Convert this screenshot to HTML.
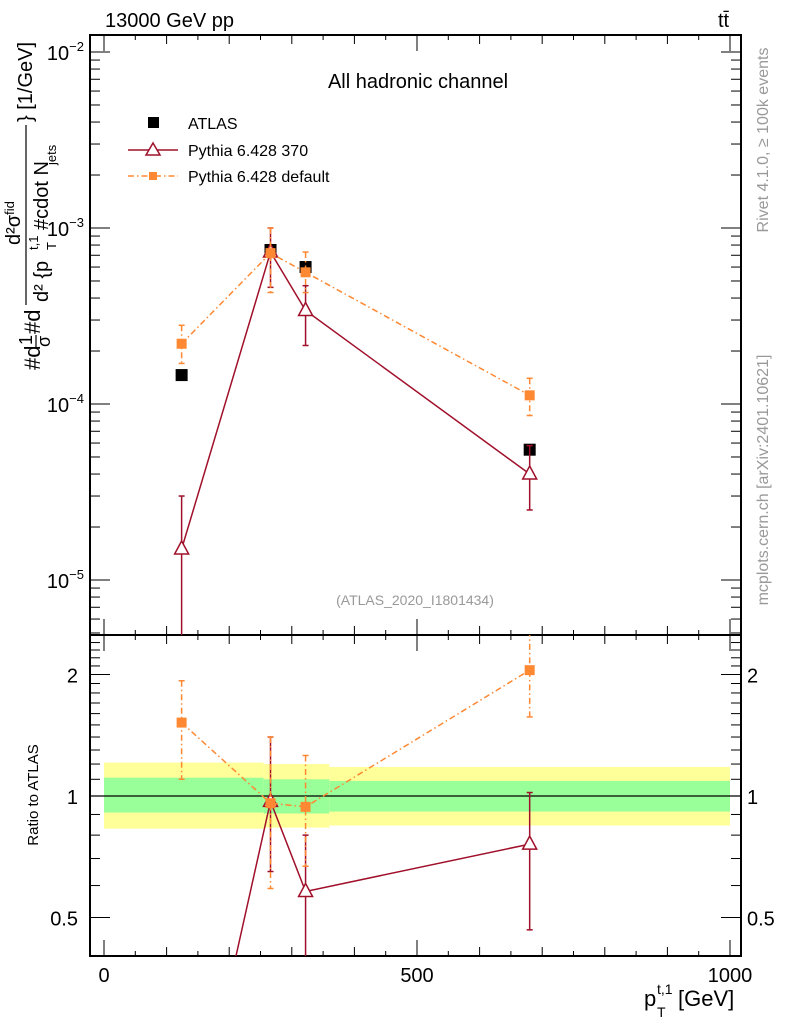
<!DOCTYPE html>
<html><head><meta charset="utf-8"><style>
html,body{margin:0;padding:0;background:#fff;overflow:hidden;}
svg{display:block;font-family:"Liberation Sans",sans-serif;}
</style></head><body>
<svg id="chart" width="786" height="1024" viewBox="0 0 786 1024" xmlns="http://www.w3.org/2000/svg">
<g id="bands"></g>
<g id="grid"></g>
<g id="series"></g>
<text x="105" y="27" font-size="20">13000 GeV pp</text>
<text x="718" y="27" font-size="20">tt̄</text>
<text x="418" y="88" font-size="20" text-anchor="middle">All hadronic channel</text>
<text x="415" y="605" font-size="14" fill="#999" text-anchor="middle">(ATLAS_2020_I1801434)</text>
<text transform="translate(768,140) rotate(-90)" font-size="16" fill="#999" text-anchor="middle">Rivet 4.1.0, ≥ 100k events</text>
<text transform="translate(768,480) rotate(-90)" font-size="16" fill="#999" text-anchor="middle">mcplots.cern.ch [arXiv:2401.10621]</text>
<g transform="rotate(-90)">
<text x="-370" y="40" font-size="22">#d</text>
<text x="-345" y="32" font-size="18">1</text>
<line x1="-347" x2="-335" y1="36" y2="36" stroke="#000" stroke-width="1.2"/>
<text x="-347" y="50" font-size="18">σ</text>
<text x="-334" y="40" font-size="22">#d</text>
<line x1="-305" x2="-125" y1="26" y2="26" stroke="#000" stroke-width="1.2"/>
<text x="-245" y="20" font-size="20">d²σ<tspan font-size="13" dy="-6">fid</tspan></text>
<text x="-302" y="48" font-size="20">d² {p</text>
<text x="-250" y="56" font-size="13">T</text>
<text x="-250" y="38" font-size="13">t,1</text>
<text x="-230" y="48" font-size="20">#cdot N</text>
<text x="-165" y="56" font-size="13">jets</text>
<text x="-122" y="32" font-size="20">} [1/GeV]</text>
</g>
<text transform="translate(38,795) rotate(-90)" font-size="15" text-anchor="middle">Ratio to ATLAS</text>
<g>
<text x="644" y="1006" font-size="22">p</text>
<text x="657" y="994" font-size="14">t,1</text>
<text x="657" y="1017" font-size="14">T</text>
<text x="678" y="1006" font-size="22">[GeV]</text>
</g>
<g font-size="16">
<g><rect x="148" y="117" width="11" height="11" fill="#000"/><text x="188" y="129">ATLAS</text></g>
<g><line x1="128" y1="150" x2="178" y2="150" stroke="#a0102a" stroke-width="1.5"/><path d="M153,143 L160,155 L146,155 Z" fill="#fff" stroke="#a0102a" stroke-width="1.5"/><text x="188" y="156">Pythia 6.428 370</text></g>
<g><line x1="128" y1="176" x2="178" y2="176" stroke="#ff8833" stroke-width="1.5" stroke-dasharray="6,3,1.5,3"/><rect x="149" y="172" width="8" height="8" fill="#ff8833"/><text x="188" y="182">Pythia 6.428 default</text></g>
</g>
</svg>
<script>
const xVals=[124,266,322,680];
const atlas=[1.46e-4,7.5e-4,6.0e-4,5.5e-5];
const p370=[1.5e-5,7.3e-4,3.4e-4,4.0e-5];
const p370Up=[3.0e-5,1.0e-3,4.7e-4,5.8e-5];
const p370Dn=[1e-7,4.6e-4,2.15e-4,2.5e-5];
const pDef=[2.2e-4,7.2e-4,5.6e-4,1.12e-4];
const pDefUp=[2.8e-4,1.0e-3,7.3e-4,1.4e-4];
const pDefDn=[1.7e-4,4.3e-4,4.3e-4,8.6e-5];
const r370=[0.1,0.97,0.58,0.76];
const r370Up=[0.2,1.4,0.8,1.02];
const r370Dn=[0.05,0.65,0.1,0.466];
const rDef=[1.52,0.96,0.94,2.05];
const rDefUp=[1.93,1.4,1.26,3];
const rDefDn=[1.1,0.59,0.67,1.57];
const bandEdges=[0,255,360,1000];
const yellowUp=[1.21,1.2,1.18];
const yellowDn=[0.83,0.835,0.845];
const greenUp=[1.11,1.1,1.09];
const greenDn=[0.91,0.905,0.915];
const ratioTicks=[0.5,1,2];

const NS="http://www.w3.org/2000/svg";
const L=90,R=741,T=35,M=635,B=956;
const X=v=>104+v*0.626;
const Y=v=>52+(-2-Math.log10(v))*176;
const YR=r=>796-Math.log2(r)*121.5;
function mk(p,tag,a){const e=document.createElementNS(NS,tag);for(const k in a)e.setAttribute(k,a[k]);p.appendChild(e);return e;}
const grid=document.getElementById('grid'),ser=document.getElementById('series'),bands=document.getElementById('bands');
for(let i=0;i<bandEdges.length-1;i++){
 const y=mk(bands,'rect',{x:X(bandEdges[i]),y:YR(yellowUp[i]),width:X(bandEdges[i+1])-X(bandEdges[i]),height:YR(yellowDn[i])-YR(yellowUp[i]),fill:'#ffff99'});
 
 
 const g=mk(bands,'rect',{x:X(bandEdges[i]),y:YR(greenUp[i]),width:X(bandEdges[i+1])-X(bandEdges[i]),height:YR(greenDn[i])-YR(greenUp[i]),fill:'#99ff99'});
 
 
}
const f1=mk(grid,'rect',{x:L,y:T,width:R-L,height:M-T,fill:'none',stroke:'#000','stroke-width':2});


const f2=mk(grid,'rect',{x:L,y:M,width:R-L,height:B-M,fill:'none',stroke:'#000','stroke-width':2});


const one=mk(grid,'line',{x1:L,x2:R,y1:YR(1),y2:YR(1),stroke:'#000','stroke-width':1.2});


for(let v=0;v<=1000;v+=50){
 const maj=v%500===0, mid=v%100===0;
 const len=maj?16:(mid?9:5);
 for(const [yb,dir] of [[M,-1],[B,-1],[T,1],[M,1]]){
  mk(grid,'line',{x1:X(v),x2:X(v),y1:yb,y2:yb+dir*len,stroke:'#000','stroke-width':1});
 }
 if(maj){const t=mk(grid,'text',{x:X(v),y:982,'font-size':20,'text-anchor':'middle'});t.textContent=v;
 
 }
}
for(let d=-6;d<=-2;d++){
 for(let m=1;m<10;m++){
  const v=m*Math.pow(10,d);const y=Y(v);if(y<T||y>M)continue;
  const len=m===1?20:10;
  mk(grid,'line',{x1:L,x2:L+len,y1:y,y2:y,stroke:'#000'});
  mk(grid,'line',{x1:R,x2:R-len,y1:y,y2:y,stroke:'#000'});
  if(m===1){const t=mk(grid,'text',{x:84,y:y+8,'font-size':20,'text-anchor':'end'});
   t.innerHTML='10<tspan font-size="13" dy="-9">'+String.fromCharCode(8722)+(-d)+'</tspan>';
   
   }
 }
}
for(let r=0.4;r<=2.5;r+=0.1){
 const y=YR(r);if(y<M||y>B)continue;
 mk(grid,'line',{x1:L,x2:L+10,y1:y,y2:y,stroke:'#000'});
 mk(grid,'line',{x1:R,x2:R-10,y1:y,y2:y,stroke:'#000'});
}
for(const r of ratioTicks){const y=YR(r);
 mk(grid,'line',{x1:L,x2:L+20,y1:y,y2:y,stroke:'#000'});
 mk(grid,'line',{x1:R,x2:R-20,y1:y,y2:y,stroke:'#000'});
 const t=mk(grid,'text',{x:78,y:y+8,'font-size':20,'text-anchor':'end'});t.textContent=r;
 
 
 const t2=mk(grid,'text',{x:747,y:y+8,'font-size':20});t2.textContent=r;
 
 
}
const defs=mk(ser,'defs',{});
const c1=mk(defs,'clipPath',{id:'cm'});mk(c1,'rect',{x:L,y:T,width:R-L,height:M-T});
const c2=mk(defs,'clipPath',{id:'cr'});mk(c2,'rect',{x:L,y:M,width:R-L,height:B-M});
const gm=mk(ser,'g',{'clip-path':'url(#cm)'});
const gr=mk(ser,'g',{'clip-path':'url(#cr)'});
function drawSeries(g,fy,vals,up,dn,color,dash,marker,name){
 const pts=vals.map((v,i)=>X(xVals[i])+','+fy(v)).join(' ');
 const pl=mk(g,'polyline',{points:pts,fill:'none',stroke:color,'stroke-width':1.5,'stroke-dasharray':dash});
 
 
 vals.forEach((v,i)=>{
  const x=X(xVals[i]);
  if(up){const e=mk(g,'line',{x1:x,x2:x,y1:fy(up[i]),y2:fy(dn[i]),stroke:color,'stroke-width':1.5,'stroke-dasharray':dash});
   
   
   mk(g,'line',{x1:x-3,x2:x+3,y1:fy(up[i]),y2:fy(up[i]),stroke:color,'stroke-width':1.5});
   mk(g,'line',{x1:x-3,x2:x+3,y1:fy(dn[i]),y2:fy(dn[i]),stroke:color,'stroke-width':1.5});}
  const y=fy(v);let m;
  if(marker==='osq')m=mk(g,'rect',{x:x-5,y:y-5,width:10,height:10,fill:color});
  else m=mk(g,'path',{d:`M${x},${y-8} L${x+7},${y+5} L${x-7},${y+5} Z`,fill:'#fff',stroke:color,'stroke-width':1.5});
  
  
 });
}
atlas.forEach((v,i)=>{const m=mk(gm,'rect',{x:X(xVals[i])-6,y:Y(v)-6,width:12,height:12,fill:'#000'});
 
 });
drawSeries(gm,Y,p370,p370Up,p370Dn,'#a0102a','none','tri','pythia-370');
drawSeries(gm,Y,pDef,pDefUp,pDefDn,'#ff8833','6,3,1.5,3','osq','pythia-default');
drawSeries(gr,YR,r370,r370Up,r370Dn,'#a0102a','none','tri','ratio-pythia-370');
drawSeries(gr,YR,rDef,rDefUp,rDefDn,'#ff8833','6,3,1.5,3','osq','ratio-pythia-default');
</script>
</body></html>
